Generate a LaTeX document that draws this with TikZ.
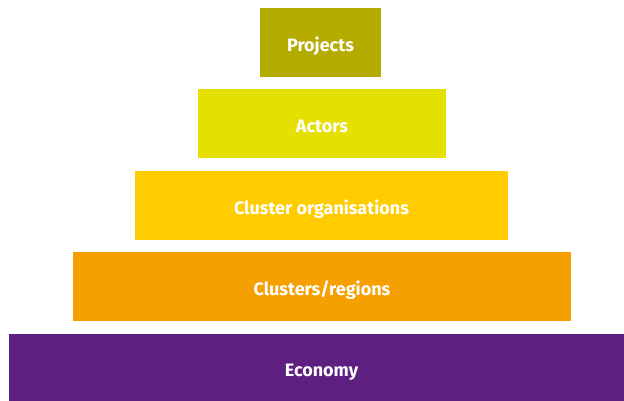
\documentclass[tikz,border=0pt]{standalone}
\usepackage{fontspec}
\setmainfont{Fira Sans}
\usetikzlibrary{positioning}
\definecolor{projcol}{HTML}{B5AC00}
\definecolor{actcol}{HTML}{E6E000}
\definecolor{orgcol}{HTML}{FFCC00}
\definecolor{regcol}{HTML}{F5A000}
\definecolor{ecocol}{HTML}{5E2080}

\begin{document}
\begin{tikzpicture}[x=1pt,y=-1pt,
  tier/.style 2 args={
    rectangle,
    fill=#2,
    minimum width=#1,
    minimum height=69pt,
    inner sep=0pt,
    text height=18pt,
    text depth=0pt,
    text=white,
    font=\bfseries\fontsize{18}{20}\selectfont},
]

  \def\midx{321.5}%
  \useasboundingbox (0,0) rectangle (624,401);

  % Levels of the pyramid, top to bottom
  \node[tier={121pt}{projcol}] (projects) at (320.5,42.5) {Projects};
  \node[tier={248pt}{actcol}] (actors) at (\midx+0.5,123.5) {Actors};
  \node[tier={373pt}{orgcol}] (clusterorg) at (\midx,205.5) {Cluster organisations};
  \node[tier={498pt}{regcol}] (regions) at (\midx+0.5,286.5) {Clusters/regions};
  % runs past the right edge
  \node[tier={625pt}{ecocol},minimum height=67pt] (economy) at (\midx,367.5) {Economy};

\end{tikzpicture}
\end{document}
